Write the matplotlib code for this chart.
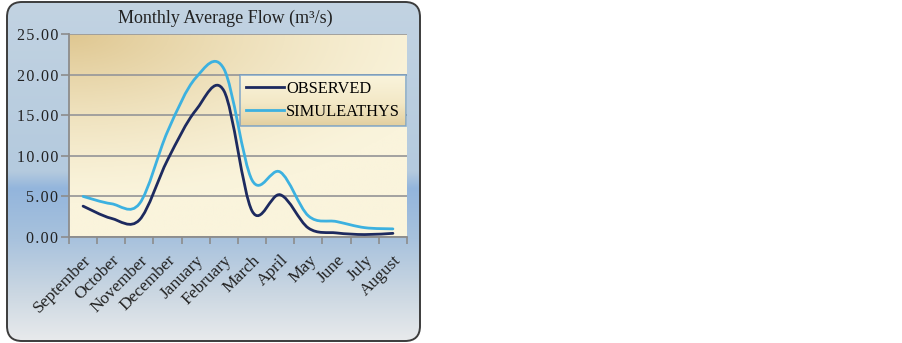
import matplotlib
matplotlib.use("Agg")
import matplotlib.pyplot as plt
import numpy as np
from matplotlib.path import Path
from matplotlib.patches import PathPatch, FancyBboxPatch
from matplotlib.colors import to_rgb

# ---------------------------------------------------------------------------
# Data
# ---------------------------------------------------------------------------
months = ["September", "October", "November", "December", "January", "February",
          "March", "April", "May", "June", "July", "August"]
observed = [3.8, 2.3, 2.1, 9.5, 15.6, 18.0, 3.2, 5.2, 1.1, 0.5, 0.3, 0.45]
simulated = [5.0, 4.1, 4.1, 13.0, 19.6, 20.7, 7.0, 8.0, 2.6, 1.9, 1.15, 1.0]

title = "Monthly Average Flow (m³/s)"
series_names = ["OBSERVED", "SIMULEATHYS"]
y_ticks = [0, 5, 10, 15, 20, 25]

OBS_COLOR = "#1d2a5f"
SIM_COLOR = "#3cb1e0"
SERIF = "Liberation Serif"

plt.rcParams["font.family"] = SERIF

W, H = 903, 343
fig = plt.figure(figsize=(W / 100, H / 100), dpi=100)
fig.patch.set_facecolor("white")


def smooth_path(xs, ys):
    """Excel-style smoothed line: Catmull-Rom converted to cubic Bezier segments."""
    pts = np.column_stack([xs, ys]).astype(float)
    n = len(pts)
    verts = [pts[0]]
    codes = [Path.MOVETO]
    for i in range(n - 1):
        p0 = pts[i - 1] if i > 0 else pts[i]
        p1, p2 = pts[i], pts[i + 1]
        p3 = pts[i + 2] if i + 2 < n else pts[i + 1]
        c1 = p1 + (p2 - p0) / 6.0
        c2 = p2 - (p3 - p1) / 6.0
        verts += [c1, c2, p2]
        codes += [Path.CURVE4] * 3
    return Path(verts, codes)


def gradient(stops, n=256):
    """Vertical list of colours from (position, colour) stops."""
    pos = np.array([s[0] for s in stops])
    cols = np.array([to_rgb(s[1]) for s in stops])
    t = np.linspace(0, 1, n)
    return np.stack([np.interp(t, pos, cols[:, k]) for k in range(3)], axis=1)


def spaced(s):
    # the original tick labels are drawn with a little letter spacing
    return "\u200a".join(s)


# ---------------------------------------------------------------------------
# Rounded outer frame with vertical gradient
# ---------------------------------------------------------------------------
bg = fig.add_axes([0, 0, 1, 1], zorder=-5)
bg.set_xlim(0, W)
bg.set_ylim(H, 0)
bg.axis("off")

fx0, fy0, fx1, fy1 = 7, 2, 420, 341
frame = FancyBboxPatch((fx0, fy0), fx1 - fx0, fy1 - fy0,
                       boxstyle="round,pad=0,rounding_size=15",
                       facecolor="none", edgecolor="#3c3c3c", linewidth=1.4, zorder=3)
bg.add_patch(frame)
col = gradient([(0.0, "#c2d3e2"), (0.50, "#b4cade"), (0.55, "#93b5dc"),
                (0.70, "#a8c2dd"), (0.86, "#cbd7e2"), (1.0, "#e8eaec")])
img = np.repeat(col[:, None, :], 2, axis=1)
im = bg.imshow(img, extent=(fx0, fx1, fy1, fy0), aspect="auto", zorder=1,
               interpolation="bilinear")
clip = FancyBboxPatch((fx0, fy0), fx1 - fx0, fy1 - fy0,
                      boxstyle="round,pad=0,rounding_size=15",
                      facecolor="none", edgecolor="none", transform=bg.transData)
im.set_clip_path(clip)

fig.text(225 / W, 1 - 18 / H, title, ha="center", va="center",
         fontsize=13, color="#222222", family=SERIF)

# ---------------------------------------------------------------------------
# Plot area
# ---------------------------------------------------------------------------
ax = fig.add_axes([69 / W, 1 - 237 / H, 338 / W, 203 / H])
ax.set_xlim(-0.5, len(months) - 0.5)
ax.set_ylim(0, 25)

# diagonal tan -> cream gradient in the plot area
gx, gy = np.meshgrid(np.linspace(0, 1, 200), np.linspace(0, 1, 200))
d = np.clip(1 - np.hypot(gx * 0.85, gy * 1.2), 0, 1)  # 1 at top-left
tan = np.array(to_rgb("#dfc791"))
cream = np.array(to_rgb("#faf4dc"))
area = cream + (tan - cream) * (d[..., None] ** 1.4)
ax.imshow(area, extent=(0, 1, 0, 1), transform=ax.transAxes, aspect="auto",
          zorder=0, origin="upper")

for yv in y_ticks:
    ax.axhline(yv, color="#9b9b9b", linewidth=1.3, zorder=1)

x = np.arange(len(months))
for vals, color in [(observed, OBS_COLOR), (simulated, SIM_COLOR)]:
    ax.add_patch(PathPatch(smooth_path(x, vals), facecolor="none",
                           edgecolor=color, linewidth=2.0, zorder=3,
                           capstyle="round", joinstyle="round"))

ax.set_yticks(y_ticks)
ax.set_yticklabels([spaced(f"{v:.2f}") for v in y_ticks], fontsize=11.5,
                   color="#222222")
ax.set_xticks(np.arange(len(months) + 1) - 0.5, minor=False)
ax.set_xticklabels([])
ax.set_xticks(x, minor=True)
ax.set_xticklabels(months, minor=True, rotation=45, ha="right", va="top",
                   rotation_mode="anchor", fontsize=12.5, color="#222222")
ax.tick_params(axis="x", which="major", length=5, color="#8c8c8c", width=1.2)
ax.tick_params(axis="x", which="minor", length=0, pad=11)
ax.tick_params(axis="y", length=6, color="#8c8c8c", width=1.2, pad=2)

for side in ["top", "right"]:
    ax.spines[side].set_visible(False)
for side in ["left", "bottom"]:
    ax.spines[side].set_color("#8c8c8c")
    ax.spines[side].set_linewidth(1.3)

# legend with its own gradient fill
handles = [plt.Line2D([], [], color=OBS_COLOR, linewidth=2.0),
           plt.Line2D([], [], color=SIM_COLOR, linewidth=2.0)]
leg = ax.legend(handles, series_names, loc="upper right",
                bbox_to_anchor=(0.997, 0.798), frameon=True,
                fancybox=False, handlelength=2.3, handletextpad=0.15,
                labelspacing=0.45, borderpad=0.35, borderaxespad=0,
                prop={"family": SERIF, "size": 11.8})
leg.get_frame().set_facecolor("none")
leg.get_frame().set_edgecolor("#6f9cc8")
leg.get_frame().set_linewidth(1.2)
leg.set_zorder(5)

fig.canvas.draw()
bb = leg.get_window_extent().transformed(ax.transAxes.inverted())
lcol = gradient([(0.0, "#faf4dc"), (0.55, "#f3e8c6"), (1.0, "#e2cf9f")])
limg = np.repeat(lcol[:, None, :], 2, axis=1)
ax.imshow(limg, extent=(bb.x0, bb.x1, bb.y0, bb.y1), transform=ax.transAxes,
          aspect="auto", zorder=4, origin="upper")
ax.set_xlim(-0.5, len(months) - 0.5)
ax.set_ylim(0, 25)

fig.savefig("out.png", dpi=100)
